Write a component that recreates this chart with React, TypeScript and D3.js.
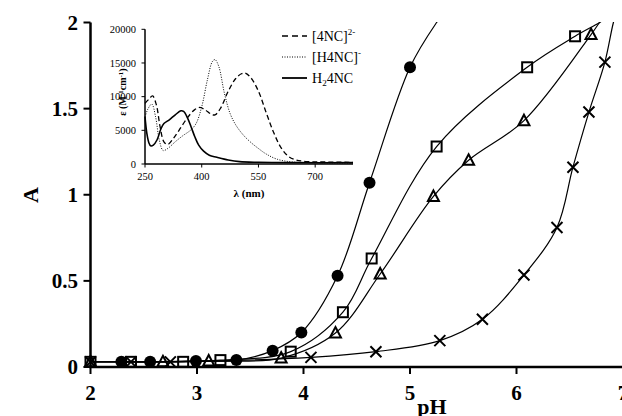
import React from "react";
import * as d3 from "d3";

// ---------- main chart data ----------
const circlePH = [2.29, 2.56, 2.99, 3.37, 3.71, 3.98, 4.32, 4.62, 5.0];
const circleA = [0.03, 0.03, 0.035, 0.04, 0.095, 0.2, 0.53, 1.07, 1.74];
const circleFitPH = [5.25, 5.35];
const circleFitA = [2.0, 2.08];

const squarePH = [2.0, 2.38, 2.87, 3.22, 3.88, 4.37, 4.64, 5.25, 6.1, 6.55];
const squareA = [0.03, 0.03, 0.03, 0.04, 0.089, 0.318, 0.63, 1.28, 1.74, 1.92];
const squareFitPH = [6.78, 6.9];
const squareFitA = [2.0, 2.05];

const trianglePH = [2.0, 2.68, 3.11, 3.79, 4.3, 4.72, 5.22, 5.55, 6.07, 6.7];
const triangleA = [0.03, 0.03, 0.035, 0.052, 0.197, 0.54, 0.99, 1.2, 1.43, 1.93];
const triangleFitPH = [6.78, 6.85];
const triangleFitA = [2.0, 2.05];

const crossPH = [2.0, 2.38, 2.75, 4.07, 4.68, 5.28, 5.68, 6.07, 6.38, 6.53, 6.68, 6.83];
const crossA = [0.03, 0.03, 0.03, 0.056, 0.089, 0.153, 0.277, 0.534, 0.81, 1.16, 1.48, 1.77];
const crossFitPH = [6.91, 6.96];
const crossFitA = [2.0, 2.1];

const xTicks = [2, 3, 4, 5, 6, 7];
const yTicks = [0, 0.5, 1, 1.5, 2];

// ---------- inset spectra data ----------
const lam4NC = [250, 260, 270, 280, 290, 300, 310, 325, 340, 360, 380, 395, 410, 425, 435, 450, 470, 490, 505, 515, 530, 550, 570, 590, 610, 630, 650, 680, 720, 800];
const eps4NC = [9000, 9600, 10100, 8800, 5500, 3300, 2900, 3800, 5000, 6700, 8000, 8400, 8000, 7400, 7300, 8300, 10800, 12700, 13400, 13500, 12800, 10800, 7700, 4700, 2400, 1100, 600, 350, 300, 250];

const lamH4NC = [250, 258, 268, 278, 288, 298, 310, 330, 350, 370, 385, 400, 415, 428, 435, 445, 460, 475, 490, 510, 530, 550, 570, 600, 640, 700, 800];
const epsH4NC = [7000, 8200, 8900, 7000, 3500, 2000, 2300, 3300, 4200, 5000, 6000, 8500, 12500, 15200, 15500, 14500, 10500, 7500, 5800, 4300, 3200, 2300, 1500, 700, 300, 200, 150];

const lamH24NC = [250, 255, 260, 265, 272, 282, 292, 300, 315, 330, 345, 352, 362, 372, 382, 392, 405, 420, 440, 470, 500, 550, 650, 800];
const epsH24NC = [7000, 4500, 3200, 2700, 2800, 3600, 5200, 6000, 6600, 7300, 7900, 7800, 6900, 5500, 4000, 2800, 1900, 1300, 1000, 600, 350, 250, 200, 200];

const insetXTicks = [250, 400, 550, 700];
const insetYTicks = [0, 5000, 10000, 15000, 20000];

const FONT = "'Liberation Serif', 'Times New Roman', Times, serif";

function zip(xs: number[], ys: number[]): [number, number][] {
  return xs.map((x, i) => [x, ys[i]] as [number, number]);
}

export default function App() {
  // main scales
  const x = d3.scaleLinear().domain([2, 7]).range([90.5, 623]);
  const y = d3.scaleLinear().domain([0, 2]).range([367, 22.5]);

  // inset scales
  const ix = d3.scaleLinear().domain([250, 800]).range([145, 353]);
  const iy = d3.scaleLinear().domain([0, 20000]).range([164, 29.3]);

  const line = d3
    .line<[number, number]>()
    .x((d) => x(d[0]))
    .y((d) => y(d[1]))
    .curve(d3.curveCatmullRom.alpha(0.5));

  const iline = d3
    .line<[number, number]>()
    .x((d) => ix(d[0]))
    .y((d) => iy(d[1]))
    .curve(d3.curveCatmullRom.alpha(0.5));

  const series = [
    { pts: zip(circlePH, circleA), fit: zip(circleFitPH, circleFitA), type: "circle" },
    { pts: zip(squarePH, squareA), fit: zip(squareFitPH, squareFitA), type: "square" },
    { pts: zip(trianglePH, triangleA), fit: zip(triangleFitPH, triangleFitA), type: "triangle" },
    { pts: zip(crossPH, crossA), fit: zip(crossFitPH, crossFitA), type: "cross" },
  ];

  const marker = (type: string, cx: number, cy: number, k: string) => {
    if (type === "circle") return <circle key={k} cx={cx} cy={cy} r={6} fill="#000" />;
    if (type === "square")
      return <rect key={k} x={cx - 5} y={cy - 5} width={10} height={10} fill="none" stroke="#000" strokeWidth={2} />;
    if (type === "triangle")
      return (
        <path key={k} d={`M${cx},${cy - 6}L${cx + 5.5},${cy + 4.5}L${cx - 5.5},${cy + 4.5}Z`} fill="none" stroke="#000" strokeWidth={2} />
      );
    return (
      <path key={k} d={`M${cx - 5.5},${cy - 5.5}L${cx + 5.5},${cy + 5.5}M${cx + 5.5},${cy - 5.5}L${cx - 5.5},${cy + 5.5}`} stroke="#000" strokeWidth={2} />
    );
  };

  return (
    <svg width={622} height={416} style={{ position: "absolute", left: 0, top: 0, background: "#fff" }} fontFamily={FONT}>
      <defs>
        <clipPath id="plotclip">
          <rect x={90} y={22} width={540} height={346} />
        </clipPath>
      </defs>

      {/* fitted curves */}
      <g clipPath="url(#plotclip)">
        {series.map((s, i) => (
          <path key={i} d={line([...s.pts, ...s.fit]) || ""} fill="none" stroke="#000" strokeWidth={1.2} />
        ))}
      </g>

      {/* markers */}
      {series.map((s, i) => s.pts.map((p, j) => marker(s.type, x(p[0]), y(p[1]), `${i}-${j}`)))}

      {/* main axes */}
      <line x1={x(2)} x2={x(2)} y1={y(2)} y2={y(0)} stroke="#000" strokeWidth={2.5} />
      <line x1={x(2) - 1.25} x2={623} y1={y(0)} y2={y(0)} stroke="#000" strokeWidth={2.5} />
      {yTicks.map((t) => (
        <g key={t}>
          <line x1={x(2) - 7} x2={x(2)} y1={y(t)} y2={y(t)} stroke="#000" strokeWidth={2} />
          <text x={78} y={y(t)} dy="0.35em" textAnchor="end" fontSize={21} fontWeight="bold">
            {t}
          </text>
        </g>
      ))}
      {xTicks.map((t) => (
        <g key={t}>
          <line x1={x(t)} x2={x(t)} y1={y(0)} y2={y(0) + 7} stroke="#000" strokeWidth={2} />
          <text x={x(t)} y={400} textAnchor="middle" fontSize={21} fontWeight="bold">
            {t}
          </text>
        </g>
      ))}
      <text x={432} y={414} textAnchor="middle" fontSize={22} fontWeight="bold">
        pH
      </text>
      <text transform="translate(38,195) rotate(-90)" textAnchor="middle" fontSize={22} fontWeight="bold">
        A
      </text>

      {/* inset */}
      <g>
        <path d={iline(zip(lam4NC, eps4NC)) || ""} fill="none" stroke="#000" strokeWidth={1.3} strokeDasharray="5,3" />
        <path d={iline(zip(lamH4NC, epsH4NC)) || ""} fill="none" stroke="#000" strokeWidth={1} strokeDasharray="1,1.5" />
        <path d={iline(zip(lamH24NC, epsH24NC)) || ""} fill="none" stroke="#000" strokeWidth={1.6} />

        <line x1={ix(250)} x2={ix(250)} y1={iy(20000)} y2={iy(0)} stroke="#000" strokeWidth={1.5} />
        <line x1={ix(250)} x2={ix(800)} y1={iy(0)} y2={iy(0)} stroke="#000" strokeWidth={1.5} />
        {insetYTicks.map((t) => (
          <g key={t}>
            <line x1={ix(250) - 3.5} x2={ix(250)} y1={iy(t)} y2={iy(t)} stroke="#000" strokeWidth={1} />
            <text x={ix(250) - 9} y={iy(t)} dy="0.35em" textAnchor="end" fontSize={10.5}>
              {t}
            </text>
          </g>
        ))}
        {insetXTicks.map((t) => (
          <g key={t}>
            <line x1={ix(t)} x2={ix(t)} y1={iy(0)} y2={iy(0) + 3.5} stroke="#000" strokeWidth={1} />
            <text x={ix(t)} y={180} textAnchor="middle" fontSize={10.5}>
              {t}
            </text>
          </g>
        ))}
        <text x={249} y={197} textAnchor="middle" fontSize={11} fontWeight="bold">
          λ (nm)
        </text>
        <text transform="translate(126,92) rotate(-90)" textAnchor="middle" fontSize={10} fontWeight="bold">
          ε (M
          <tspan fontSize={7} dy={-3.5}>-1</tspan>
          <tspan dy={3.5}>cm</tspan>
          <tspan fontSize={7} dy={-3.5}>-1</tspan>
          <tspan dy={3.5}>)</tspan>
        </text>

        {/* legend */}
        <line x1={282} x2={307} y1={36} y2={36} stroke="#000" strokeWidth={1.3} strokeDasharray="6,4" />
        <text x={312} y={41} fontSize={14}>
          [4NC]
          <tspan fontSize={9} dy={-6}>2-</tspan>
        </text>
        <line x1={282} x2={307} y1={57} y2={57} stroke="#000" strokeWidth={1} strokeDasharray="1,1.5" />
        <text x={312} y={62} fontSize={14}>
          [H4NC]
          <tspan fontSize={9} dy={-6}>-</tspan>
        </text>
        <line x1={282} x2={307} y1={78} y2={78} stroke="#000" strokeWidth={1.8} />
        <text x={312} y={83} fontSize={14}>
          H
          <tspan fontSize={9} dy={3}>2</tspan>
          <tspan dy={-3}>4NC</tspan>
        </text>
      </g>
    </svg>
  );
}
